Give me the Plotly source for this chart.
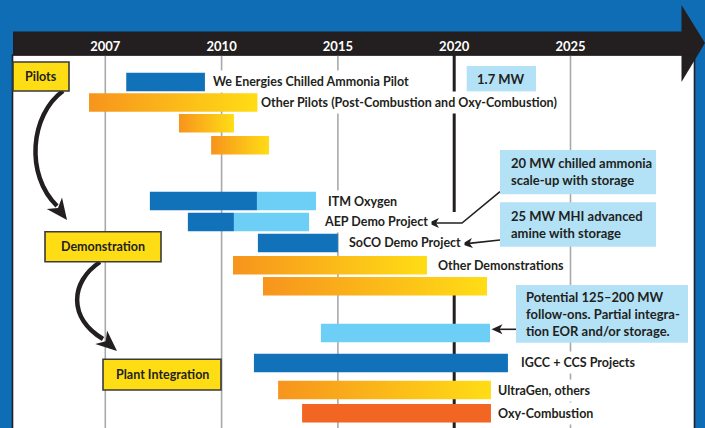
import numpy as np
import plotly.graph_objects as go

# ---------------- data ----------------
tick_years = [2007, 2010, 2015, 2020, 2025]
tick_labels = ["2007", "2010", "2015", "2020", "2025"]

row_labels = [
    "We Energies Chilled Ammonia Pilot",
    "Other Pilots (Post-Combustion and Oxy-Combustion)",
    "",
    "",
    "ITM Oxygen",
    "AEP Demo Project",
    "SoCO Demo Project",
    "Other Demonstrations",
    "",
    "",
    "IGCC + CCS Projects",
    "UltraGen, others",
    "Oxy-Combustion",
]
start_year = [2007.54, 2006.58, 2008.90, 2009.73, 2008.15, 2009.13, 2011.56,
              2010.49, 2011.78, 2014.27, 2011.39, 2012.43, 2013.46]
phase2_year = [None, None, None, None, 2011.52, 2010.53, None,
               None, None, None, None, None, None]
end_year = [2009.57, 2011.56, 2010.53, 2012.04, 2014.06, 2013.76, 2015.00,
            2018.83, 2021.41, 2021.54, 2022.31, 2021.58, 2021.58]
bar_kind = ["blue", "gradient", "gradient", "gradient", "blue", "blue", "blue",
            "gradient", "gradient", "light", "blue", "gradient", "oxy"]

stage_labels = ["Pilots", "Demonstration", "Plant Integration"]
note_texts = [
    "1.7 MW",
    "20 MW chilled ammonia<br>scale-up with storage",
    "25 MW MHI advanced<br>amine with storage",
    "Potential 125–200 MW<br>follow-ons. Partial integra-<br>tion EOR and/or storage.",
]

# ---------------- layout constants ----------------
W, H = 705, 428
BLUE_BG = "#0F6DB6"
DARK = "#231F20"
DBLUE = "#1172BA"
LBLUE = "#6DCFF6"
NOTE = "#B3E2F7"
YELLOW = "#FFDD15"
OXY = "#F26522"
GRAD = [[0, "#F7941D"], [1, "#FFDD15"]]
FONT = "Lato"

row_y = [82, 102.5, 123.3, 145.3, 201, 221.9, 242.9, 265.3, 286.2, 332.9, 362.9, 390, 413.2]
bar_h = 18.5
label_px = [209, 257, None, None, 324, 320, 345, 434, None, None, 517, 494, 494]

X0_PX, TICK_PX = 105.3, 116.3  # pixel of first tick, pixels per tick interval
PLOT_L, PLOT_R, PLOT_T = 13, 694, 55


def to_axis(year):
    """Map a year onto the equally spaced tick scale (piecewise linear)."""
    ty = tick_years
    if year <= ty[1]:
        return (year - ty[0]) / (ty[1] - ty[0])
    if year >= ty[-2]:
        return len(ty) - 2 + (year - ty[-2]) / (ty[-1] - ty[-2])
    return float(np.interp(year, ty, range(len(ty))))


def u_px(p):
    return (p - X0_PX) / TICK_PX


def px(x):
    return x / W


def py(y):
    return 1 - y / H


fig = go.Figure()

# bars
for i in range(len(row_labels)):
    s, e = to_axis(start_year[i]), to_axis(end_year[i])
    y = row_y[i]
    kind = bar_kind[i]
    if kind == "gradient":
        fig.add_trace(go.Scatter(
            x=[s, e, e, s, s],
            y=[y - bar_h / 2, y - bar_h / 2, y + bar_h / 2, y + bar_h / 2, y - bar_h / 2],
            mode="lines", fill="toself", line=dict(width=0),
            fillgradient=dict(type="horizontal", colorscale=GRAD),
            hoverinfo="skip", showlegend=False))
    else:
        if phase2_year[i] is not None:
            m = to_axis(phase2_year[i])
            segs = [(s, m, DBLUE), (m, e, LBLUE)]
        else:
            col = {"blue": DBLUE, "light": LBLUE, "oxy": OXY}[kind]
            segs = [(s, e, col)]
        for a, b, c in segs:
            fig.add_trace(go.Bar(
                orientation="h", y=[y], base=[a], x=[b - a], width=bar_h,
                marker=dict(color=c, line=dict(width=0)),
                hoverinfo="skip", showlegend=False))

shapes = []
# header band and arrow
shapes.append(dict(type="rect", xref="paper", yref="paper", layer="below",
                   x0=px(PLOT_L), x1=px(683), y0=py(55.5), y1=py(31.5),
                   fillcolor=DARK, line=dict(width=0)))
shapes.append(dict(type="path", xref="paper", yref="paper", layer="above",
                   path=f"M {px(681.5)} {py(5)} L {px(705)} {py(43)} L {px(681.5)} {py(82)} Z",
                   fillcolor=DARK, line=dict(width=0)))
# plot frame
shapes.append(dict(type="rect", xref="paper", yref="paper", layer="above",
                   x0=px(12.5), x1=px(694.5), y0=py(431), y1=py(55),
                   line=dict(color=DARK, width=1.6)))
# grid lines
for k, yr in enumerate(tick_years):
    if yr == 2020:
        for a, b in [(55, 212), (278, 428)]:
            shapes.append(dict(type="line", xref="x", yref="y", layer="below",
                               x0=k, x1=k, y0=a, y1=b,
                               line=dict(color=DARK, width=3)))
    else:
        shapes.append(dict(type="line", xref="x", yref="y", layer="below",
                           x0=k, x1=k, y0=55, y1=428,
                           line=dict(color="#A7A9AC", width=1.6)))

# curved stage arrows
def head(tx, ty, dx, dy, L, w, notch):
    n = np.hypot(dx, dy)
    dx, dy = dx / n, dy / n
    qx, qy = -dy, dx
    bx, by = tx - L * dx, ty - L * dy
    nx, ny = tx - (L - notch) * dx, ty - (L - notch) * dy
    pts = [(tx, ty), (bx + w * qx, by + w * qy), (nx, ny), (bx - w * qx, by - w * qy)]
    p = "M " + " L ".join(f"{px(a)} {py(b)}" for a, b in pts) + " Z"
    return dict(type="path", xref="paper", yref="paper", layer="above", path=p,
                fillcolor=DARK, line=dict(width=0))


def curve(pts, width):
    (x0, y0), (x1, y1), (x2, y2), (x3, y3) = pts
    p = (f"M {px(x0)} {py(y0)} C {px(x1)} {py(y1)}, {px(x2)} {py(y2)}, "
         f"{px(x3)} {py(y3)}")
    return dict(type="path", xref="paper", yref="paper", layer="above", path=p,
                line=dict(color=DARK, width=width))


def poly(pts, width):
    p = "M " + " L ".join(f"{px(a)} {py(b)}" for a, b in pts)
    return dict(type="path", xref="paper", yref="paper", layer="above", path=p,
                line=dict(color=DARK, width=width))


shapes.append(curve([(63, 91), (30, 115), (25, 175), (57, 206)], 4.5))
shapes.append(head(67, 220, 12, 16, 21, 9.5, 6))
shapes.append(curve([(100, 262), (70, 282), (68, 318), (103, 339)], 4.5))
shapes.append(head(117, 351, 15.5, 13.5, 21, 9, 6))

# small pointer arrows
shapes.append(poly([(500, 191.7), (462, 223), (436, 223)], 1.6))
shapes.append(head(428, 223, -1, 0, 11, 5, 3))
shapes.append(poly([(500, 240), (469, 243.4)], 1.6))
shapes.append(head(461.5, 244.2, -38.3, 4.2, 11, 5, 3))
shapes.append(poly([(516, 329.3), (499, 329.3)], 1.6))
shapes.append(head(491.5, 329.3, -1, 0, 11, 5, 3))

# note boxes
note_boxes = [(466.7, 536, 66, 91.7), (500, 656, 150, 194.3),
              (500, 656, 202.3, 246.7), (516, 688, 285, 342.7)]
for (x0, x1, y0, y1) in note_boxes:
    shapes.append(dict(type="rect", xref="paper", yref="paper", layer="above",
                       x0=px(x0), x1=px(x1), y0=py(y1), y1=py(y0),
                       fillcolor=NOTE, line=dict(width=0)))

# stage boxes
stage_boxes = [(13, 69, 62, 91), (45, 161, 231.7, 261.7), (103, 221, 359.3, 390)]
for (x0, x1, y0, y1) in stage_boxes:
    shapes.append(dict(type="rect", xref="paper", yref="paper", layer="above",
                       x0=px(x0), x1=px(x1), y0=py(y1), y1=py(y0),
                       fillcolor=YELLOW, line=dict(color="#3A3A3A", width=1.6)))

annotations = []
# bar labels
for i, t in enumerate(row_labels):
    if not t:
        continue
    annotations.append(dict(
        xref="paper", yref="paper", x=px(label_px[i]), y=py(row_y[i]),
        xanchor="left", yanchor="middle", text=t, showarrow=False,
        bgcolor="white", borderpad=3,
        font=dict(family=FONT, size=12.5, color=DARK, weight="bold")))

# note texts
note_pos = [(501.3, 78.8, "center"), (509, 172, "left"), (509, 224.5, "left"), (524, 314, "left")]
for t, (x, y, al) in zip(note_texts, note_pos):
    annotations.append(dict(
        xref="paper", yref="paper", x=px(x), y=py(y),
        xanchor="center" if al == "center" else "left", yanchor="middle",
        align=al, text=t, showarrow=False,
        font=dict(family=FONT, size=13, color=DARK, weight="bold")))

# stage texts
for t, (x0, x1, y0, y1) in zip(stage_labels, stage_boxes):
    annotations.append(dict(
        xref="paper", yref="paper", x=px((x0 + x1) / 2), y=py((y0 + y1) / 2),
        xanchor="center", yanchor="middle", text=t, showarrow=False,
        font=dict(family=FONT, size=12.5, color=DARK, weight="bold")))

fig.update_layout(
    width=W, height=H, margin=dict(l=0, r=0, t=0, b=0),
    paper_bgcolor=BLUE_BG, plot_bgcolor="white",
    barmode="overlay", showlegend=False,
    shapes=shapes, annotations=annotations,
    xaxis=dict(domain=[px(PLOT_L), px(PLOT_R)], range=[u_px(PLOT_L), u_px(PLOT_R)],
               side="top", tickvals=list(range(len(tick_years))), ticktext=tick_labels,
               tickfont=dict(family=FONT, size=13, color="white", weight="bold"),
               ticks="", showgrid=False, zeroline=False, showline=False,
               fixedrange=True),
    yaxis=dict(domain=[0, 1 - PLOT_T / H], range=[H, PLOT_T], showticklabels=False,
               ticks="", showgrid=False, zeroline=False, showline=False,
               fixedrange=True),
)

fig.write_html("out.html", config={"displayModeBar": False},
               post_script="document.body.style.margin='0';document.body.style.overflow='hidden';")
